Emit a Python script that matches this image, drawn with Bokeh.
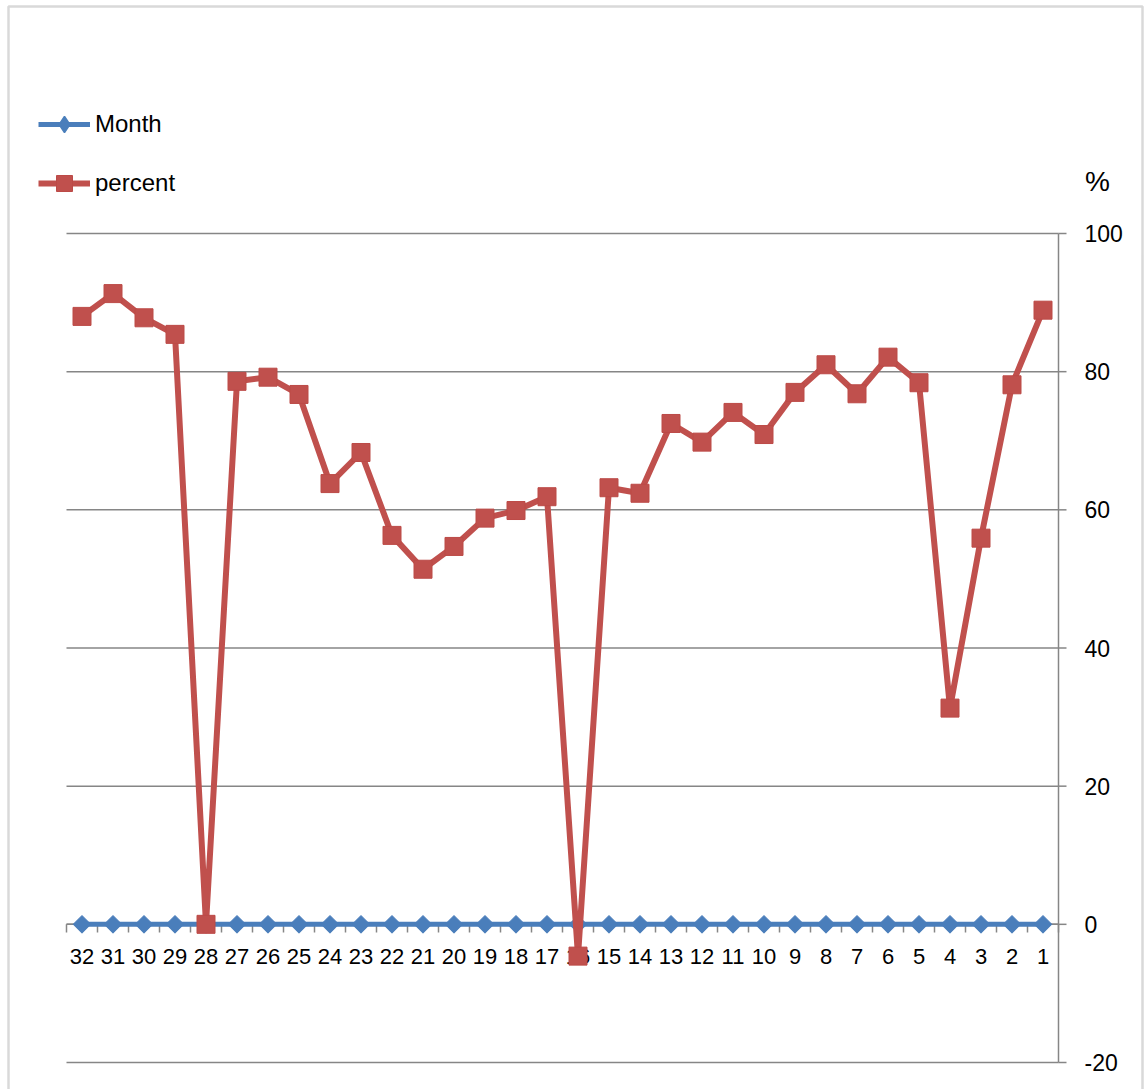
from bokeh.plotting import figure
from bokeh.models import (Range1d, Legend, LegendItem, Label, BoxAnnotation,
                          ColumnDataSource)
from bokeh.core.properties import value
from bokeh.embed import file_html
from bokeh.resources import INLINE
import numpy as np

# months shown left to right, newest last
months = [32, 31, 30, 29, 28, 27, 26, 25, 24, 23, 22, 21, 20, 19, 18, 17,
          16, 15, 14, 13, 12, 11, 10, 9, 8, 7, 6, 5, 4, 3, 2, 1]
month_series = [0] * 32
percent = [88.0, 91.3, 87.8, 85.4, 0.0, 78.6, 79.2, 76.7, 63.8, 68.3, 56.3,
           51.4, 54.7, 58.8, 59.9, 61.9, -4.6, 63.2, 62.4, 72.5, 69.8, 74.1,
           70.9, 77.0, 81.0, 76.8, 82.1, 78.4, 31.3, 55.9, 78.1, 88.9]
y_ticks = [-20, 0, 20, 40, 60, 80, 100]
y_tick_labels = ["-20", "0", "20", "40", "60", "80", "100"]
month_labels = [str(m) for m in months]

W, H = 1144, 1089
FONT = "Liberation Sans"
BLUE = "#4A7EBB"
RED = "#C0504D"
GRID = "#868686"

# plot-area geometry in canvas pixels: category slots are 31 px wide starting
# at x=66; the value 100 sits at y=233 and -20 at y=1062
SLOT_PX = 31.0
AREA_LEFT = 66.0
TOP_PX, BOTTOM_PX = 233.0, 1062.0
V_PX = (BOTTOM_PX - TOP_PX) / (max(y_ticks) - min(y_ticks))
x_first = months[0] + 0.5


def xd(px):
    return x_first - (px - AREA_LEFT) / SLOT_PX


def yd(py):
    return max(y_ticks) - (py - TOP_PX) / V_PX


p = figure(width=W, height=H, output_backend="svg", toolbar_location=None,
           x_range=Range1d(xd(0), xd(W)), y_range=Range1d(yd(H), yd(0)),
           x_axis_location=None, y_axis_location=None,
           min_border=0, min_border_left=0, min_border_right=0,
           min_border_top=0, min_border_bottom=0)
p.outline_line_color = None
p.background_fill_color = "white"
p.border_fill_color = "white"
p.grid.visible = False

edges = [m + 0.5 for m in months] + [months[-1] - 0.5]
x_left, x_right = edges[0], edges[-1]
n_t = len(y_ticks)

# horizontal gridlines
p.segment(x0=[x_left] * n_t, y0=y_ticks, x1=[x_right] * n_t, y1=y_ticks,
          line_color=GRID, line_width=1.5)

# value axis on the right
p.line(x=[x_right, x_right], y=[min(y_ticks), max(y_ticks)], line_color=GRID,
       line_width=1.5)
p.segment(x0=[x_right] * n_t, y0=y_ticks, x1=[xd(1066)] * n_t, y1=y_ticks,
          line_color=GRID, line_width=1.5)
p.text(x=[xd(1084)] * n_t, y=y_ticks, text=y_tick_labels, text_align="left",
       text_baseline="middle", text_font=value(FONT), text_font_size="23px",
       text_color="black")

# category axis running along the zero line
p.line(x=[x_left, x_right], y=[0, 0], line_color=GRID, line_width=1.5)
p.segment(x0=edges, y0=[0] * len(edges), x1=edges, y1=[yd(932)] * len(edges),
          line_color=GRID, line_width=1.5)
p.text(x=months, y=[0] * 32, text=month_labels, text_align="center",
       text_baseline="middle", y_offset=32, text_font=value(FONT),
       text_font_size="22px", text_color="black")

src = ColumnDataSource(dict(month=months, m=month_series, pct=percent))

l_month = p.line("month", "m", source=src, line_color=BLUE, line_width=5)
s_month = p.scatter("month", "m", source=src, marker="square", angle=np.pi / 4,
                    size=12.5, fill_color=BLUE, line_color=BLUE)
l_pct = p.line("month", "pct", source=src, line_color=RED, line_width=6)
s_pct = p.scatter("month", "pct", source=src, marker="square", size=18,
                  fill_color=RED, line_color="#BC4A47", line_width=1)
# diamond key for the Month entry (no points of its own)
key_month = p.scatter(x=[np.nan], y=[np.nan], marker="diamond",
                      fill_color=BLUE, line_color=BLUE, line_width=1.5)

leg_style = dict(glyph_width=52, label_standoff=5, padding=0, margin=0,
                 border_line_color=None, background_fill_alpha=0,
                 label_text_font=FONT, label_text_font_size="24px",
                 label_text_color="black")
# Legend tuple locations are measured from the bottom-left of the canvas
leg1 = Legend(items=[LegendItem(label="Month", renderers=[l_month, key_month])],
              location=(38, H - 144), glyph_height=40, label_height=40,
              **leg_style)
leg2 = Legend(items=[LegendItem(label="percent", renderers=[l_pct, s_pct])],
              location=(38, H - 203), glyph_height=40, label_height=40,
              **leg_style)
p.add_layout(leg1)
p.add_layout(leg2)

p.add_layout(Label(x=xd(1097), y=yd(181), text="%", text_align="center",
                   text_baseline="middle", text_font=FONT,
                   text_font_size="28px", text_color="black"))

# chart-area frame
p.add_layout(BoxAnnotation(left=xd(8), right=xd(1142), top=yd(6),
                           bottom=yd(1110), fill_alpha=0,
                           line_color="#808080", line_width=2.5,
                           level="overlay"))

open("out.html", "w").write(file_html(p, INLINE))
